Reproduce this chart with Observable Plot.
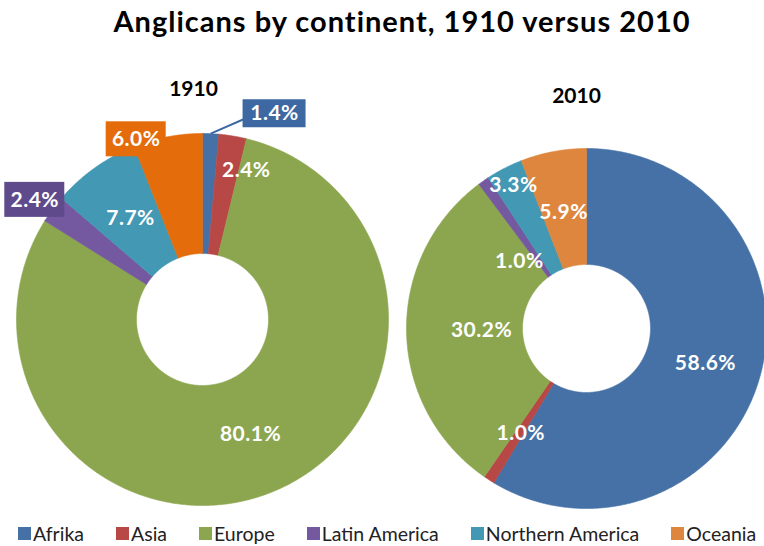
<!DOCTYPE html>
<html><head><meta charset="utf-8">
<script src="https://cdn.jsdelivr.net/npm/d3@7"></script>
<script src="https://cdn.jsdelivr.net/npm/@observablehq/plot@0.6"></script>
<style>
body{margin:0;background:#fff;width:764px;height:546px;overflow:hidden;font-family:Lato,"Open Sans",sans-serif}
#title{height:48px;box-sizing:border-box;padding-left:40px;text-align:center;font-weight:bold;font-size:29px;letter-spacing:1px;line-height:42px;color:#000;white-space:nowrap}
#chart{height:472px}
#legend{height:26px;display:flex;align-items:center;padding-left:18px;gap:32px;font-size:19.5px;color:#222;white-space:nowrap}
#legend .it{display:flex;align-items:center}
#legend .sw{width:13px;height:13px;margin-right:2px}
</style></head><body>
<div id="title">Anglicans by continent, 1910 versus 2010</div>
<div id="chart"></div>
<div id="legend"></div>
<script>
// ---- data ----
const continents = ["Afrika", "Asia", "Europe", "Latin America", "Northern America", "Oceania"];
const years = ["1910", "2010"];
const share1910 = [1.4, 2.4, 80.1, 2.4, 7.7, 6.0];
const share2010 = [58.6, 1.0, 30.2, 1.0, 3.3, 5.9];

// ---- styles ----
const colors = ["#4571A6", "#B84845", "#8CA64F", "#7458A0", "#4398B3", "#DE863E"];
const colorOverride = {"1910": {"Oceania": "#E46C0A"}};

// ---- layout ----
const layout = {
  "1910": {cx: 202, cy: 319, r0: 66, r1: 186, head: [193, 89],
    labels: [
      {r: 218, a: 19.3, box: [63, 28], boxFill: "#3D68A2", leader: true},
      {r: 156, a: 16.3},
      {r: 124, a: 157.2},
      {r: 206, a: 305.5, box: [60, 35], boxFill: "#5F4B8B"},
      {r: 124, a: 324.5},
      {r: 192, a: 339.8, box: [60, 35], boxFill: "#E46C0A"}
    ]},
  "2010": {cx: 586, cy: 328, r0: 64, r1: 180, head: [576, 96],
    labels: [
      {r: 124, a: 106.4},
      {r: 124, a: 212},
      {r: 105, a: 269},
      {r: 95, a: 315},
      {r: 161, a: 333},
      {r: 118, a: 348.8}
    ]}
};

const shares = {"1910": share1910, "2010": share2010};
const colorOf = (year, c) => (colorOverride[year] && colorOverride[year][c]) || colors[continents.indexOf(c)];
const pt = (L, r, ang) => [L.cx + r * Math.sin(ang), L.cy - r * Math.cos(ang)];

const poly = [], labels = [], boxes = [], leaders = [];
for (const year of years) {
  const L = layout[year];
  let cum = 0;
  shares[year].forEach((v, i) => {
    const c = continents[i];
    const a0 = cum / 100 * 2 * Math.PI; cum += v;
    const a1 = cum / 100 * 2 * Math.PI;
    const n = Math.max(2, Math.ceil((a1 - a0) / (Math.PI / 360)));
    const id = year + c, col = colorOf(year, c);
    const pts = [];
    for (let k = 0; k <= n; k++) pts.push(pt(L, L.r1, a0 + (a1 - a0) * k / n));
    for (let k = n; k >= 0; k--) pts.push(pt(L, L.r0, a0 + (a1 - a0) * k / n));
    pts.push(pts[0]);
    for (const [x, y] of pts) poly.push({id, x, y, col});
    const lab = L.labels[i];
    const [lx, ly] = pt(L, lab.r, lab.a * Math.PI / 180);
    labels.push({x: lx, y: ly, text: v.toFixed(1) + "%"});
    if (lab.box) {
      boxes.push({x1: lx - lab.box[0] / 2, x2: lx + lab.box[0] / 2, y1: ly - lab.box[1] / 2, y2: ly + lab.box[1] / 2, fill: lab.boxFill});
      if (lab.leader) {
        const [sx, sy] = pt(L, L.r1, (a0 + a1) / 2);
        leaders.push({x1: sx, y1: sy, x2: lx - lab.box[0] / 2 + 4, y2: ly + 4, stroke: lab.boxFill});
      }
    }
  });
}

const chart = Plot.plot({
  width: 764, height: 472, margin: 0,
  x: {type: "linear", domain: [0, 764], range: [0, 764], axis: null},
  y: {type: "linear", domain: [48, 520], range: [0, 472], axis: null},
  color: {type: "identity"},
  style: {background: "#fff", overflow: "visible"},
  marks: [
    Plot.line(poly, {x: "x", y: "y", z: "id", fill: "col", stroke: "col", strokeWidth: 0.6, curve: "linear"}),
    Plot.link(leaders, {x1: "x1", y1: "y1", x2: "x2", y2: "y2", stroke: "stroke", strokeWidth: 2}),
    Plot.rect(boxes, {x1: "x1", x2: "x2", y1: "y1", y2: "y2", fill: "fill"}),
    Plot.text(labels, {x: "x", y: "y", text: "text", fill: "#fff", fontWeight: "bold", fontSize: 21, fontFamily: "Lato, sans-serif"}),
    Plot.text(years, {x: d => layout[d].head[0], y: d => layout[d].head[1], text: d => d, fill: "#000", fontWeight: "bold", fontSize: 21, fontFamily: "Lato, sans-serif"})
  ]
});
chart.querySelectorAll("text").forEach(t => { if (/%$/.test(t.textContent)) t.style.letterSpacing = "0.5px"; });
document.getElementById("chart").appendChild(chart);

const legend = document.getElementById("legend");
continents.forEach((c, i) => {
  const it = document.createElement("div"); it.className = "it";
  const sw = document.createElement("span"); sw.className = "sw"; sw.style.background = colors[i];
  const tx = document.createElement("span"); tx.textContent = c;
  it.appendChild(sw); it.appendChild(tx); legend.appendChild(it);
});
</script></body></html>
